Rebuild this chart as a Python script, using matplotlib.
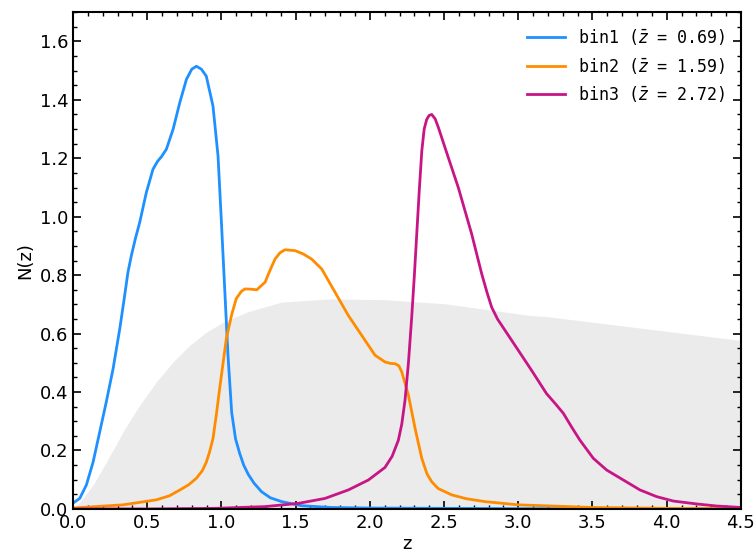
import numpy as np
import matplotlib
matplotlib.use('Agg')
import matplotlib.pyplot as plt
from matplotlib.ticker import MultipleLocator

# overall N(z) (grey background)
z_all = [0.0, 0.05, 0.135, 0.224, 0.337, 0.449, 0.562, 0.674, 0.786, 0.898, 1.011, 1.179, 1.406, 1.74,
         2.1, 2.507, 3.08, 3.18, 4.495, 4.5]
n_all = [0.0, 0.025, 0.082, 0.16, 0.264, 0.355, 0.435, 0.503, 0.56, 0.605, 0.639, 0.675, 0.708, 0.719,
         0.716, 0.702, 0.662, 0.659, 0.577, 0.576]

# bin1
z1 = [0.0, 0.045, 0.09, 0.135, 0.18, 0.224, 0.27, 0.315, 0.345, 0.37, 0.393, 0.42, 0.449, 0.494, 0.539,
      0.57, 0.595, 0.629, 0.674, 0.719, 0.764, 0.80, 0.831, 0.865, 0.898, 0.943, 0.977, 1.0, 1.022, 1.044,
      1.069, 1.095, 1.123, 1.15, 1.181, 1.22, 1.27, 1.33, 1.406, 1.54, 1.74, 2.0, 2.5, 3.0, 3.5, 4.0, 4.5]
n1 = [0.02, 0.036, 0.082, 0.16, 0.264, 0.366, 0.48, 0.617, 0.72, 0.81, 0.867, 0.925, 0.98, 1.083, 1.163,
      1.19, 1.205, 1.231, 1.299, 1.39, 1.47, 1.505, 1.515, 1.505, 1.481, 1.379, 1.208, 0.98, 0.753, 0.526,
      0.33, 0.24, 0.19, 0.15, 0.118, 0.088, 0.059, 0.038, 0.025, 0.011, 0.005, 0.003, 0.002, 0.001, 0.001,
      0.0, 0.0]

# bin2
z2 = [0.0, 0.337, 0.56, 0.65, 0.72, 0.78, 0.831, 0.87, 0.898, 0.92, 0.943, 0.965, 0.988, 1.033, 1.069,
      1.10, 1.135, 1.159, 1.20, 1.238, 1.294, 1.33, 1.361, 1.395, 1.429, 1.496, 1.55, 1.608, 1.676, 1.765,
      1.855, 1.945, 2.035, 2.102, 2.14, 2.17, 2.195, 2.215, 2.26, 2.305, 2.35, 2.385, 2.417, 2.46, 2.552,
      2.65, 2.776, 3.0, 3.5, 4.0, 4.5]
n2 = [0.003, 0.014, 0.031, 0.045, 0.065, 0.083, 0.105, 0.13, 0.16, 0.195, 0.241, 0.32, 0.412, 0.583, 0.665,
      0.72, 0.745, 0.753, 0.752, 0.75, 0.776, 0.82, 0.855, 0.877, 0.887, 0.884, 0.873, 0.855, 0.821, 0.742,
      0.662, 0.594, 0.526, 0.503, 0.498, 0.497, 0.49, 0.469, 0.389, 0.275, 0.173, 0.12, 0.093, 0.07, 0.048,
      0.035, 0.025, 0.014, 0.005, 0.002, 0.001]

# bin3
z3 = [0.0, 0.5, 0.957, 1.294, 1.518, 1.698, 1.855, 1.99, 2.102, 2.15, 2.192, 2.215, 2.237, 2.26, 2.282,
      2.30, 2.316, 2.333, 2.35, 2.366, 2.383, 2.40, 2.417, 2.44, 2.462, 2.529, 2.596, 2.686, 2.754, 2.79,
      2.821, 2.86, 2.911, 3.0, 3.09, 3.19, 3.25, 3.304, 3.36, 3.416, 3.506, 3.596, 3.708, 3.82, 3.933,
      4.045, 4.203, 4.338, 4.5]
n3 = [0.0, 0.0, 0.002, 0.008, 0.019, 0.036, 0.065, 0.099, 0.142, 0.18, 0.235, 0.29, 0.372, 0.5, 0.656,
      0.8, 0.941, 1.09, 1.225, 1.30, 1.333, 1.347, 1.35, 1.335, 1.305, 1.202, 1.1, 0.941, 0.804, 0.74,
      0.69, 0.65, 0.611, 0.543, 0.474, 0.395, 0.36, 0.327, 0.28, 0.235, 0.173, 0.133, 0.099, 0.065, 0.042,
      0.027, 0.017, 0.01, 0.005]

labels = [r'bin1 ($\bar{z}$ = 0.69)', r'bin2 ($\bar{z}$ = 1.59)', r'bin3 ($\bar{z}$ = 2.72)']
colors = ['#1E90FF', '#FF8C00', '#C71585']

fig = plt.figure(figsize=(7.56, 5.55), dpi=100)
ax = fig.add_axes([0.0966, 0.083, 0.8834, 0.895])

ax.fill_between(z_all, 0, n_all, color='#EBEBEB', lw=0)
for zz, nn, c, lab in zip([z1, z2, z3], [n1, n2, n3], colors, labels):
    ax.plot(zz, nn, color=c, lw=2, label=lab, solid_joinstyle='round')

ax.set_xlim(0, 4.5)
ax.set_ylim(0, 1.7)
ax.xaxis.set_major_locator(MultipleLocator(0.5))
ax.xaxis.set_minor_locator(MultipleLocator(0.1))
ax.yaxis.set_major_locator(MultipleLocator(0.2))
ax.yaxis.set_minor_locator(MultipleLocator(0.05))
ax.tick_params(which='both', direction='in', top=True, right=True, labelsize=13)
ax.tick_params(which='major', length=6, width=1.2)
ax.tick_params(which='minor', length=3, width=1)
for s in ax.spines.values():
    s.set_linewidth(1.5)
ax.set_xlabel('z', fontsize=13, labelpad=2)
ax.set_ylabel('N(z)', fontsize=13)

ax.legend(loc='upper right', frameon=False, prop={'family': 'DejaVu Sans Mono', 'size': 12},
          handlelength=2.3, handletextpad=0.8)

fig.savefig('out.png', dpi=100)
